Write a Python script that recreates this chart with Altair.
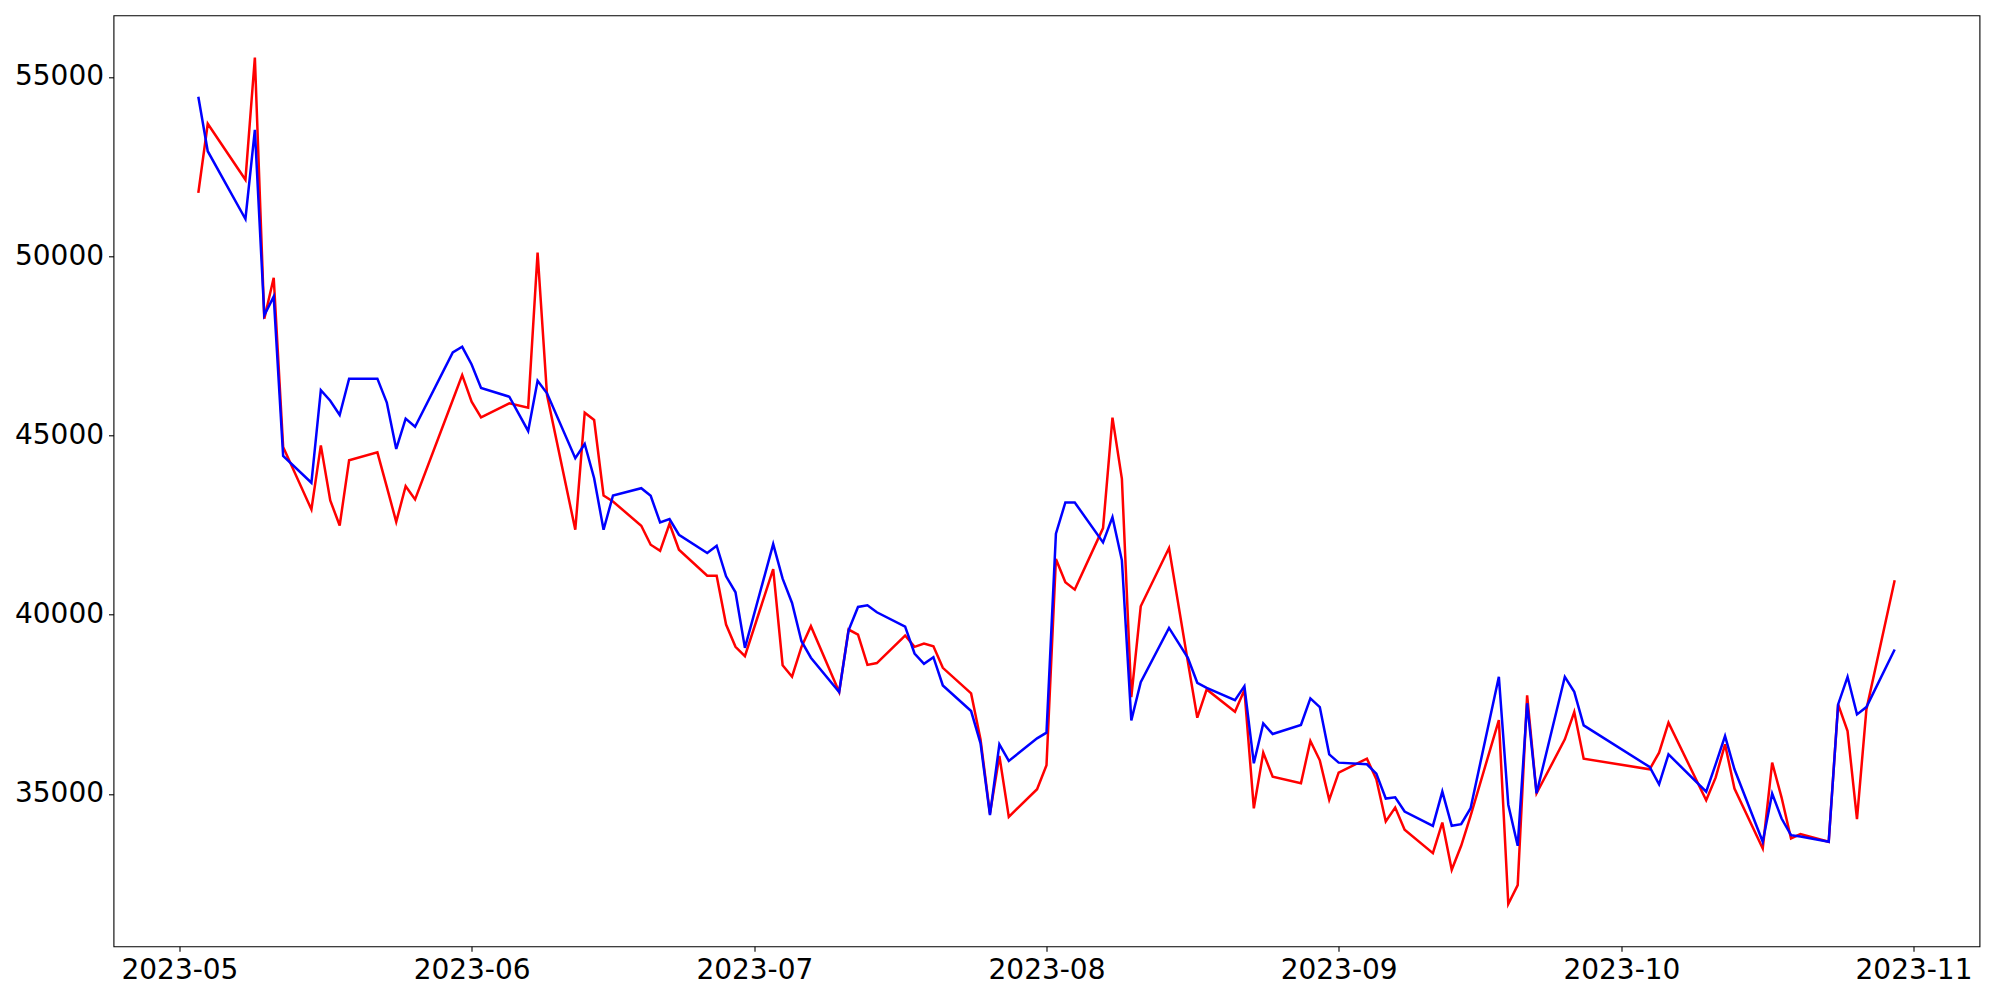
import altair as alt
import pandas as pd

dates = [
    "2023-05-03", "2023-05-04", "2023-05-08", "2023-05-09", "2023-05-10", "2023-05-11", "2023-05-12",
    "2023-05-15", "2023-05-16", "2023-05-17", "2023-05-18", "2023-05-19", "2023-05-22", "2023-05-23",
    "2023-05-24", "2023-05-25", "2023-05-26", "2023-05-30", "2023-05-31",
    "2023-06-01", "2023-06-02", "2023-06-05", "2023-06-07", "2023-06-08", "2023-06-09", "2023-06-12",
    "2023-06-13", "2023-06-14", "2023-06-15", "2023-06-16", "2023-06-19", "2023-06-20", "2023-06-21",
    "2023-06-22", "2023-06-23", "2023-06-26", "2023-06-27", "2023-06-28", "2023-06-29", "2023-06-30",
    "2023-07-03", "2023-07-04", "2023-07-05", "2023-07-06", "2023-07-07", "2023-07-10", "2023-07-11",
    "2023-07-12", "2023-07-13", "2023-07-14", "2023-07-17", "2023-07-18", "2023-07-19", "2023-07-20",
    "2023-07-21", "2023-07-24", "2023-07-25", "2023-07-26", "2023-07-27", "2023-07-28", "2023-07-31",
    "2023-08-01", "2023-08-02", "2023-08-03", "2023-08-04", "2023-08-07", "2023-08-08", "2023-08-09",
    "2023-08-10", "2023-08-11", "2023-08-14", "2023-08-16", "2023-08-17", "2023-08-18", "2023-08-21",
    "2023-08-22", "2023-08-23", "2023-08-24", "2023-08-25", "2023-08-28", "2023-08-29", "2023-08-30",
    "2023-08-31",
    "2023-09-01", "2023-09-04", "2023-09-05", "2023-09-06", "2023-09-07", "2023-09-08", "2023-09-11",
    "2023-09-12", "2023-09-13", "2023-09-14", "2023-09-15", "2023-09-18", "2023-09-19", "2023-09-20",
    "2023-09-21", "2023-09-22", "2023-09-25", "2023-09-26", "2023-09-27",
    "2023-10-04", "2023-10-05", "2023-10-06", "2023-10-10", "2023-10-11", "2023-10-12", "2023-10-13",
    "2023-10-16", "2023-10-17", "2023-10-18", "2023-10-19", "2023-10-20", "2023-10-23", "2023-10-24",
    "2023-10-25", "2023-10-26", "2023-10-27", "2023-10-30",
]

red_values = [
    51765, 53694, 52133, 55543, 48254, 49399, 44677,
    42937, 44724, 43185, 42489, 44307, 44527, 43566,
    42590, 43583, 43215, 45990, 46684,
    45942, 45506, 45896, 45775, 50099, 46127, 42369,
    45636, 45431, 43325, 43158, 42480, 41952, 41780,
    42536, 41812, 41089, 41089, 39724, 39103, 38843,
    41274, 38590, 38270, 39100, 39680, 37844, 39586,
    39446, 38600, 38650, 39418, 39103, 39196, 39121,
    38518, 37804, 36523, 34450, 36059, 34361, 35131,
    35799, 41553, 40903, 40699, 42416, 45496, 43790,
    37700, 40235, 41859, 38685, 37126, 37915, 37293,
    37896, 34600, 36151, 35483, 35298, 36476, 35938,
    34834,
    35595, 35985, 35409, 34231, 34620, 33999, 33349,
    34203, 32885, 33553, 34388, 37061, 31929, 32458,
    37748, 35019, 36522, 37283, 35984,
    35687, 36151, 36986, 34824, 35455, 36383, 35149,
    33479, 35873, 34899, 33758, 33878, 33665, 37498,
    36755, 34296, 37359, 40959,
]

blue_values = [
    54449, 52929, 51038, 53524, 48354, 48874, 44430,
    43680, 46263, 45968, 45570, 46584, 46584, 45918,
    44625, 45470, 45242, 47315, 47473,
    46981, 46322, 46081, 45125, 46526, 46174, 44364,
    44763, 43807, 42369, 43325, 43529, 43316, 42573,
    42666, 42230, 41720, 41924, 41070, 40625, 39075,
    41970, 41005, 40328, 39260, 38800, 37844, 39567,
    40216, 40263, 40068, 39670, 38917, 38630, 38815,
    38026, 37312, 36411, 34407, 36384, 35920, 36551,
    36709, 42258, 43130, 43130, 42017, 42722, 41516,
    37052, 38119, 39632, 38796, 38100, 37961, 37618,
    38008, 35855, 36968, 36671, 36922, 37664, 37423,
    36105,
    35873, 35827, 35567, 34871, 34908, 34509, 34110,
    35066, 34110, 34156, 34602, 38268, 34700, 33553,
    37530, 35019, 38267, 37849, 36912,
    35752, 35270, 36104, 35065, 35826, 36615, 35687,
    33665, 35010, 34314, 33850, 33813, 33665, 37498,
    38268, 37219, 37423, 39029,
]

y_ticks = [35000, 40000, 45000, 50000, 55000]
x_tick_months = [5, 6, 7, 8, 9, 10, 11]

df = pd.DataFrame({"date": dates, "red": red_values, "blue": blue_values})

x_enc = alt.X(
    "date:T",
    title="",
    scale=alt.Scale(
        type="utc",
        domain=[
            alt.DateTime(year=2023, month=4, date=24, utc=True),
            alt.DateTime(year=2023, month=11, date=8, utc=True),
        ],
    ),
    axis=alt.Axis(
        values=[alt.DateTime(year=2023, month=m, date=1, utc=True) for m in x_tick_months],
        labelExpr="utcFormat(datum.value, '%Y-%m')",
    ),
)

y_scale = alt.Scale(domain=[30750, 56720], nice=False, zero=False)
y_axis = alt.Axis(values=y_ticks, format="d")

base = alt.Chart(df).encode(x=x_enc)

red = base.mark_line(color="#ff0000", strokeWidth=2.5).encode(
    y=alt.Y("red:Q", title="", scale=y_scale, axis=y_axis)
)
blue = base.mark_line(color="#0000ff", strokeWidth=2.5).encode(
    y=alt.Y("blue:Q", title="", scale=y_scale, axis=y_axis)
)

chart = (
    alt.layer(red, blue)
    .properties(
        width=1866,
        height=931,
        autosize=alt.AutoSizeParams(type="none"),
        padding={"left": 105.5, "top": 7.3, "right": 10, "bottom": 50},
    )
    .configure_view(stroke="black", strokeWidth=1.1)
    .configure_axis(
        grid=False,
        domain=False,
        labelFont="DejaVu Sans",
        labelFontSize=28,
        labelColor="black",
        tickColor="black",
        tickSize=5,
        tickWidth=1.1,
        labelPadding=5,
    )
)

chart.save("out.html", embed_options={"renderer": "svg", "actions": False})
